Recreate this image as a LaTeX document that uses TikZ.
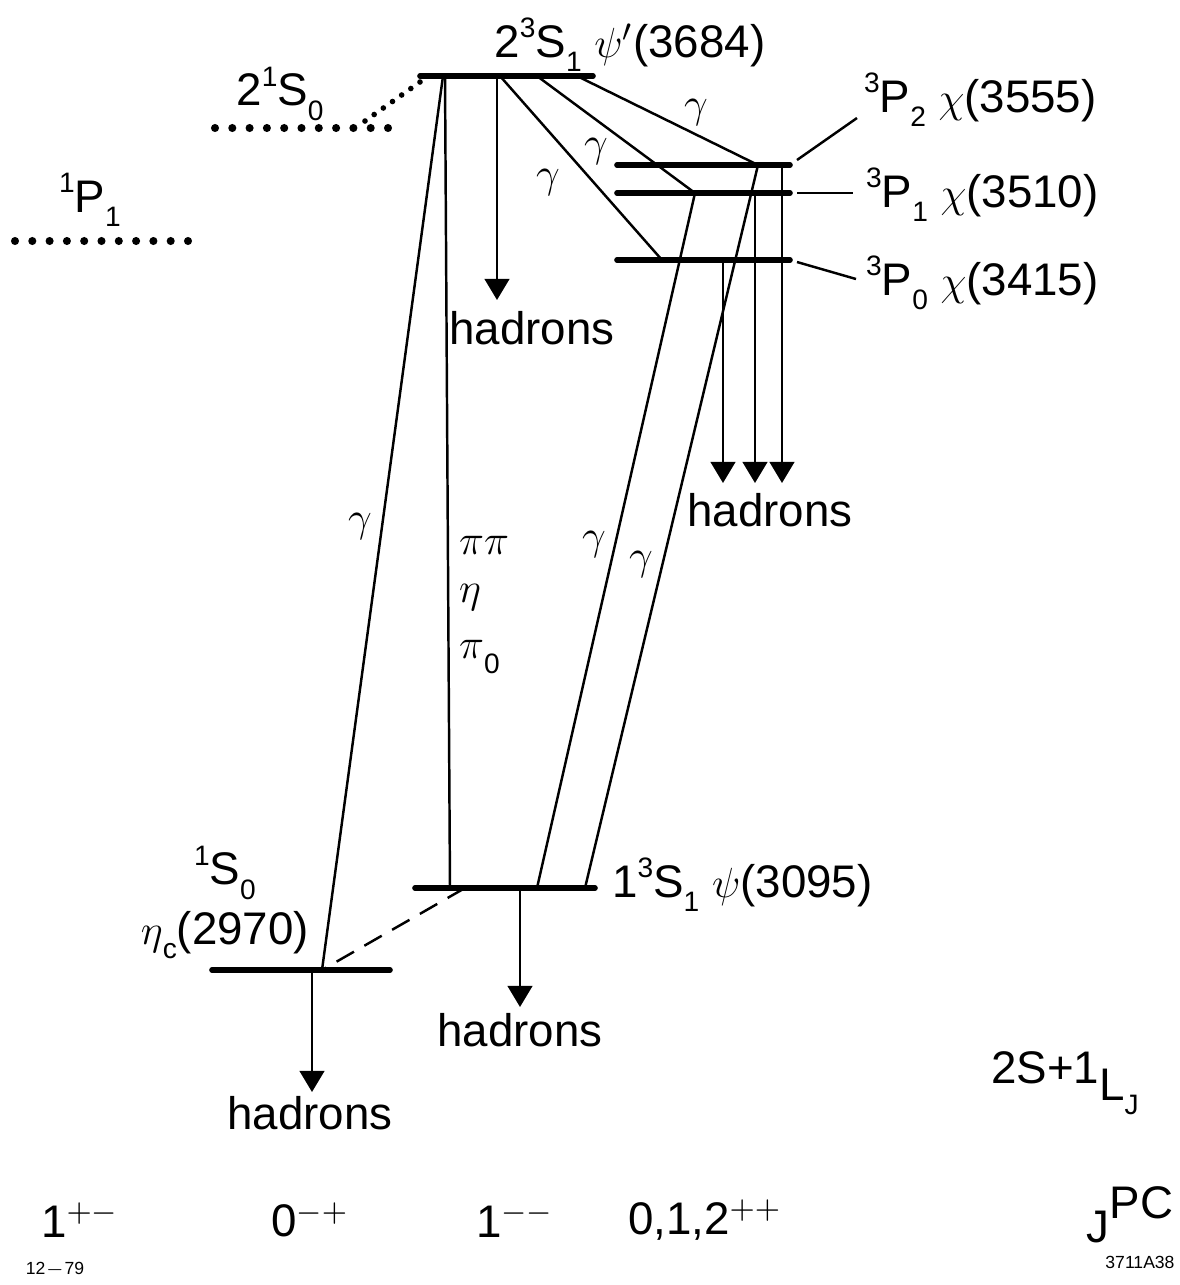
\documentclass[tikz,border=0pt]{standalone}
\usepackage{fontspec}
\setmainfont{Liberation Sans}
\usetikzlibrary{arrows.meta,calc}

\newcommand{\hi}[1]{\raisebox{0.8ex}{\footnotesize #1}}
\newcommand{\lo}[1]{\raisebox{-0.6ex}{\footnotesize #1}}

\tikzset{
  level/.style={line width=1.6pt,line cap=round},
  trans/.style={line width=0.7pt},
  decay/.style={trans,-{Triangle[width=7pt,length=6pt]}},
  lbl/.style={font=\fontsize{13}{15}\selectfont,inner sep=1pt},
}

\begin{document}
\begin{tikzpicture}[x=0.1mm,y=-0.1mm,line join=round]
\useasboundingbox (0,0) rectangle (1180,1285);

% Niveaus
\coordinate (PsiPL) at (420,76);
\coordinate (PsiPR) at (593,76);
\coordinate (SzL)   at (215,128);
\coordinate (SzA)   at (365,121);
\coordinate (SzB)   at (420,82);
\coordinate (PoL)   at (15,241);
\coordinate (ChiTL) at (617,165);
\coordinate (ChiTR) at (790,165);
\coordinate (ChiOL) at (617,193);
\coordinate (ChiOR) at (790,193);
\coordinate (ChiZL) at (617,260);
\coordinate (ChiZR) at (790,260);
\coordinate (PsiL)  at (415,888);
\coordinate (PsiR)  at (595,888);
\coordinate (EtaL)  at (212,970);
\coordinate (EtaR)  at (390,970);

% Knoten der Uebergaenge
\coordinate (P1) at (443,76);
\coordinate (P2) at (445,76);
\coordinate (P3) at (497,76);
\coordinate (P4) at (500,76);
\coordinate (P5) at (537,76);
\coordinate (P6) at (577,76);
\coordinate (E1) at (322,970);
\coordinate (E2) at (312,970);
\coordinate (J1) at (450,888);
\coordinate (J2) at (465,888);
\coordinate (J3) at (520,888);
\coordinate (J4) at (537,888);
\coordinate (J5) at (585,888);
\coordinate (C0) at (662,260);
\coordinate (C1) at (695,193);
\coordinate (C2) at (758,165);
\coordinate (H0) at (723,260);
\coordinate (H1) at (755,193);
\coordinate (H2) at (782,165);
\coordinate (HP) at (497,300);
\coordinate (HJ) at (520,1007);
\coordinate (HE) at (312,1092);
\coordinate (H0e) at (723,483);
\coordinate (H1e) at (755,483);
\coordinate (H2e) at (782,483);

\draw[level] (PsiPL)--(PsiPR);
\draw[level] (ChiTL)--(ChiTR);
\draw[level] (ChiOL)--(ChiOR);
\draw[level] (ChiZL)--(ChiZR);
\draw[level] (PsiL)--(PsiR);
\draw[level] (EtaL)--(EtaR);

\foreach \k in {0,...,10} {
  \fill ($(SzL)+(\k*17.3,0)$) circle (1.15pt);
  \fill ($(PoL)+(\k*17.3,0)$) circle (1.15pt);
}
\foreach \k in {0,...,6}
  \fill ($(SzA)!\k/6!(SzB)$) circle (0.8pt);

\draw[trans] (P1)--(E1);
\draw[trans] (P2)--(J1);
\draw[trans] (P4)--(C0);
\draw[trans] (P5)--(C1);
\draw[trans] (P6)--(C2);
\draw[trans] (C2)--(J5);
\draw[trans] (C1)--(J4);
\draw[trans,dash pattern=on 2mm off 1.2mm] (J2)--(E1);

\draw[decay] (P3)--(HP);
\draw[decay] (J3)--(HJ);
\draw[decay] (E2)--(HE);
\draw[decay] (H0)--(H0e);
\draw[decay] (H1)--(H1e);
\draw[decay] (H2)--(H2e);

% Beschriftung
\node[lbl] (psiptxt) at (630,45) {2\hi{3}S\lo{1} $\psi'$(3684)};
\node[lbl] (sztxt) at (280,94) {2\hi{1}S\lo{0}};
\node[lbl] (potxt) at (90,200) {\hi{1}P\lo{1}};
\node[lbl,anchor=west] (chittxt) at (860,100) {\hi{3}P\lo{2} $\chi$(3555)};
\node[lbl,anchor=west] (chiotxt) at (862,195) {\hi{3}P\lo{1} $\chi$(3510)};
\node[lbl,anchor=west] (chiztxt) at (862,283) {\hi{3}P\lo{0} $\chi$(3415)};
\node[lbl,anchor=west] (psitxt) at (608,885) {1\hi{3}S\lo{1} $\psi$(3095)};
\node[lbl] (etastxt) at (225,873) {\hi{1}S\lo{0}};
\node[lbl] (etatxt) at (225,935) {$\eta$\lo{c}(2970)};

\draw[trans] (ChiTR)++(7,-5) coordinate (Q2) -- (857,118) coordinate (R2);
\draw[trans] (ChiOR)++(7,0) coordinate (Q1) -- (853,193) coordinate (R1);
\draw[trans] (ChiZR)++(7,2) coordinate (Q0) -- (856,279) coordinate (R0);

\node[lbl] (hadp) at (532,328) {hadrons};
\node[lbl] (hadc) at (770,510) {hadrons};
\node[lbl] (hadj) at (520,1030) {hadrons};
\node[lbl] (hade) at (310,1113) {hadrons};

\node[lbl] (ga) at (360,527) {$\gamma$};
\node[lbl] (gb) at (594,545) {$\gamma$};
\node[lbl] (gc) at (641,565) {$\gamma$};
\node[lbl] (gd) at (548,183) {$\gamma$};
\node[lbl] (ge) at (596,152) {$\gamma$};
\node[lbl] (gf) at (696,113) {$\gamma$};

\node[lbl,anchor=west] (pipi) at (455,545) {$\pi\pi$};
\node[lbl,anchor=west] (eta) at (455,598) {$\eta$};
\node[lbl,anchor=west] (pinull) at (455,657) {$\pi$\lo{0}};

\node[lbl] (slj) at (1065,1083) {2S+1\raisebox{-0.7ex}{L\lo{J}}};
\node[lbl] (jpc) at (1130,1215) {J\raisebox{1ex}{PC}};

\node[lbl] (qa) at (80,1220) {1$^{+-}$};
\node[lbl] (qb) at (310,1220) {0$^{-+}$};
\node[lbl] (qc) at (515,1220) {1$^{--}$};
\node[lbl] (qd) at (705,1220) {0,1,2$^{++}$};

\node[font=\tiny] (datum) at (55,1270) {12$-$79};
\node[font=\tiny] (nummer) at (1140,1262) {3711A38};
\end{tikzpicture}
\end{document}
